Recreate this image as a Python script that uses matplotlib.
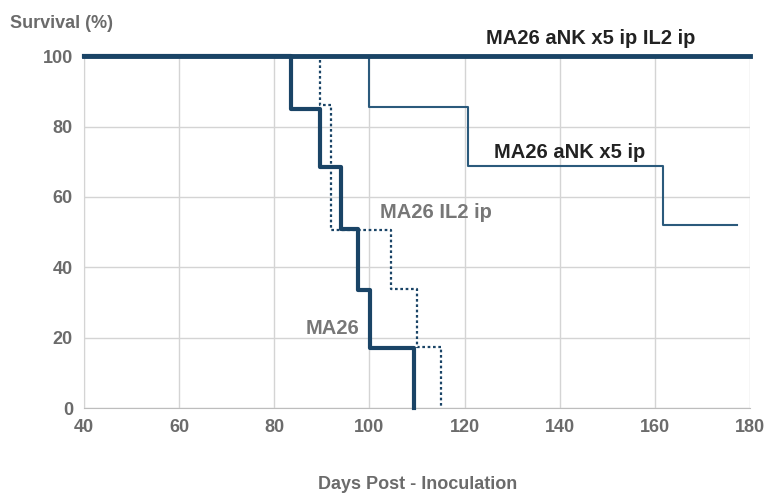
import matplotlib
matplotlib.use("Agg")
import matplotlib.pyplot as plt

plt.rcParams['font.family'] = ['Liberation Sans', 'DejaVu Sans']

# survival curves (days, percent), step after each point
ma26_days = [40, 83.5, 89.5, 94, 97.5, 100.2, 109.4]
ma26_surv = [100, 85, 68.5, 51, 33.5, 17, 0]

il2_days = [40, 89.6, 92, 104.5, 110, 115]
il2_surv = [100, 86, 50.5, 33.8, 17.3, 0]

ank_days = [40, 100, 120.8, 161.8, 177.2]
ank_surv = [100, 85.5, 68.8, 52, 52]

ank_il2_days = [40, 180]
ank_il2_surv = [100, 100]

navy = '#1a4466'
grey_txt = '#6b6b6b'

fig = plt.figure(figsize=(7.66, 4.97), dpi=100)
ax = fig.add_axes([0.1097, 0.179, 0.8695, 0.708])

ax.step(ma26_days, ma26_surv, where='post', color=navy, lw=3, clip_on=False, zorder=4)
ax.step(il2_days, il2_surv, where='post', color=navy, lw=1.6, ls=(0, (1.2, 1.2)), clip_on=False, zorder=3)
ax.step(ank_days, ank_surv, where='post', color='#2b5a7c', lw=1.5, clip_on=False, zorder=3)
ax.plot(ank_il2_days, ank_il2_surv, color=navy, lw=3.5, clip_on=False, zorder=5)

ax.set_xlim(40, 180)
ax.set_ylim(0, 100)
ax.set_xticks(range(40, 181, 20))
ax.set_yticks(range(0, 101, 20))
ax.grid(True, color='#d4d4d4', lw=1)
ax.set_axisbelow(True)
for s in ['top', 'right']:
    ax.spines[s].set_visible(False)
ax.spines['left'].set_color('#d4d4d4')
ax.spines['bottom'].set_color('#bdbdbd')
ax.tick_params(length=0, pad=8, labelsize=13, labelcolor=grey_txt)
for lab in ax.get_xticklabels() + ax.get_yticklabels():
    lab.set_fontweight('bold')

ax.text(146.4, 105.1, 'MA26 aNK x5 ip IL2 ip', fontsize=14.5, fontweight='bold', color='#222222',
        ha='center', va='center')
ax.text(142, 72.7, 'MA26 aNK x5 ip', fontsize=14.5, fontweight='bold', color='#222222',
        ha='center', va='center')
ax.text(114, 55.7, 'MA26 IL2 ip', fontsize=14.5, fontweight='bold', color='#777777',
        ha='center', va='center')
ax.text(92.3, 22.7, 'MA26', fontsize=14.5, fontweight='bold', color='#777777',
        ha='center', va='center')

fig.text(0.013, 0.952, 'Survival (%)', fontsize=13, fontweight='bold', color=grey_txt,
         ha='left', va='center')
fig.text(0.545, 0.026, 'Days Post - Inoculation', fontsize=13, fontweight='bold', color=grey_txt,
         ha='center', va='center')

fig.savefig('out.png', dpi=100, facecolor='white')
